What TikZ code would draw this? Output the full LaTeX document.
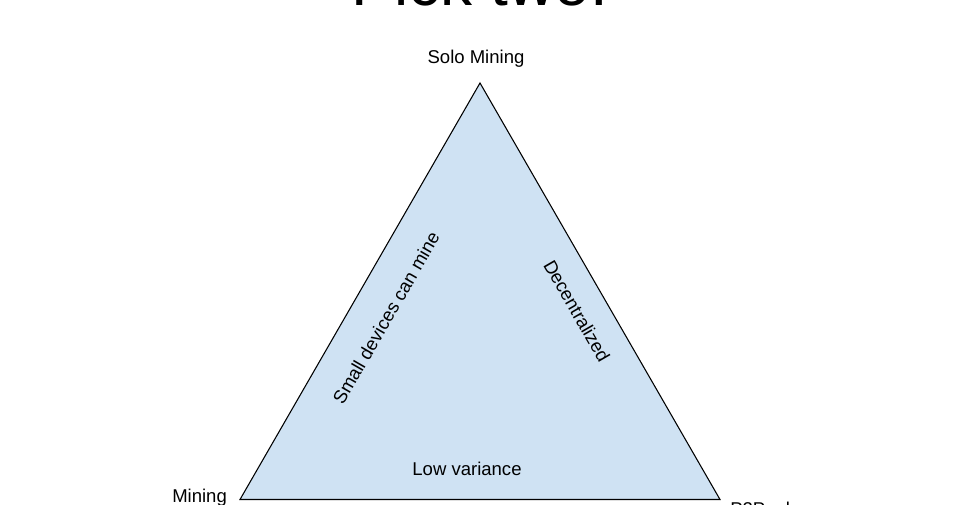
\documentclass[tikz,border=0pt]{standalone}
\usepackage{fontspec}
\setmainfont{Liberation Sans}
\definecolor{trifill}{HTML}{CFE2F3}
\begin{document}
\begin{tikzpicture}[x=0.75pt,y=-0.75pt,
  lbl/.style={font=\fontsize{13.9}{16}\selectfont, inner sep=0pt},
  edge/.style={draw=black, line width=0.8pt}]
\useasboundingbox (0,0) rectangle (960,504);
\clip (0,0) rectangle (960,504);
\fill[white] (0,0) rectangle (960,504);
\coordinate (top) at (480,83);
\coordinate (bl) at (240,499.5);
\coordinate (br) at (720,499.5);
\filldraw[fill=trifill, edge, line join=miter] (top) -- (bl) -- (br) -- cycle;
\node[font=\fontsize{48}{56}\selectfont, inner sep=0pt, anchor=base] (title) at (480,5) {Pick two!};
\node[lbl] (solo) at (476,58.5) {Solo Mining};
\node[lbl] (low) at (467,469) {Low variance};
\node[lbl, rotate=60] (small) at (386,318) {Small devices can mine};
\node[lbl, rotate=-60] (dec) at (577,311) {Decentralized};
\node[lbl, anchor=north west] (pool) at (172,489) {Mining};
\node[lbl, anchor=north west] (p2p) at (730,501.5) {P2Pool};
\end{tikzpicture}
\end{document}
